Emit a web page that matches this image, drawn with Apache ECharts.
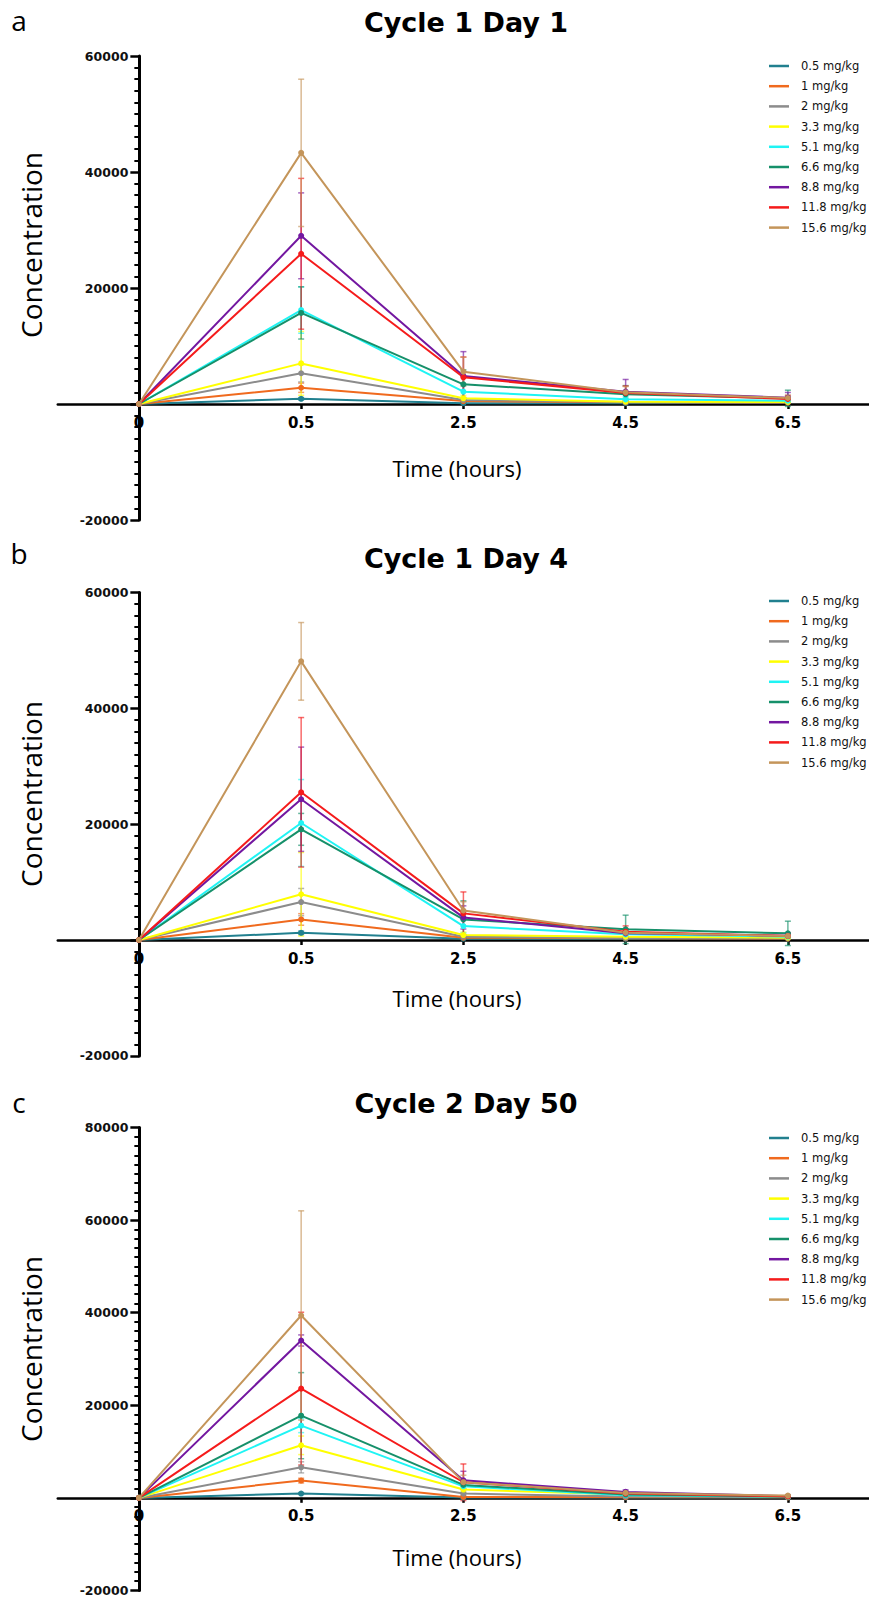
<!DOCTYPE html>
<html><head><meta charset="utf-8">
<script src="https://cdn.jsdelivr.net/npm/echarts@6/dist/echarts.min.js"></script>
<style>html,body{margin:0;padding:0;background:#fff}#chart{width:869px;height:1597px}</style>
</head><body><div id="chart"></div>
<script>
// ---- data ----
const timeLabels = ['0', '0.5', '2.5', '4.5', '6.5'];
const doseNames = ['0.5 mg/kg', '1 mg/kg', '2 mg/kg', '3.3 mg/kg', '5.1 mg/kg', '6.6 mg/kg', '8.8 mg/kg', '11.8 mg/kg', '15.6 mg/kg'];
const panelTitles = ['Cycle 1 Day 1', 'Cycle 1 Day 4', 'Cycle 2 Day 50'];
const panelLetters = ['a', 'b', 'c'];
const yMinValues = [-20000, -20000, -20000];
const yMaxValues = [60000, 60000, 80000];
const yTickStep = 20000;
const xAxisName = 'Time (hours)';
const yAxisName = 'Concentration';

// mean concentration per dose (rows) and time point (columns)
const c1d1Mean = [
  [0, 900, 150, 150, 250],
  [0, 2800, 500, 290, 250],
  [0, 5300, 690, 350, 300],
  [0, 7000, 980, 400, 350],
  [0, 16200, 2130, 800, 575],
  [0, 15700, 3390, 1670, 980],
  [0, 29000, 4830, 2130, 1090],
  [0, 25900, 4600, 1900, 860],
  [0, 43300, 5580, 2010, 1035]
];
const c1d1SD = [
  [0, 200, 50, 50, 50],
  [0, 800, 200, 100, 100],
  [0, 1500, 300, 150, 150],
  [0, 5500, 500, 200, 200],
  [0, 4000, 1200, 500, 300],
  [0, 4500, 2500, 1500, 1400],
  [0, 7400, 4200, 2100, 900],
  [0, 13000, 3500, 1200, 600],
  [0, 12700, 2500, 1000, 500]
];
const c1d4Mean = [
  [0, 1250, 230, 230, 345],
  [0, 3550, 400, 300, 250],
  [0, 6550, 575, 350, 300],
  [0, 7900, 860, 575, 400],
  [0, 20200, 2400, 980, 575],
  [0, 19100, 3560, 1840, 1150],
  [0, 24300, 3900, 1150, 750],
  [0, 25500, 4600, 1440, 690],
  [0, 48100, 5100, 1260, 700]
];
const c1d4SD = [
  [0, 300, 80, 80, 80],
  [0, 1000, 150, 100, 100],
  [0, 2350, 300, 150, 100],
  [0, 7200, 500, 300, 200],
  [0, 7500, 1200, 600, 400],
  [0, 2750, 3200, 2450, 2100],
  [0, 9000, 2000, 800, 500],
  [0, 12900, 3700, 1000, 500],
  [0, 6700, 1500, 600, 400]
];
const c2d50Mean = [
  [0, 935, 70, 100, 100],
  [0, 3740, 215, 150, 120],
  [0, 6600, 930, 300, 200],
  [0, 11360, 1800, 720, 300],
  [0, 15600, 2500, 575, 250],
  [0, 17760, 2800, 720, 300],
  [0, 34000, 3800, 1300, 360],
  [0, 23600, 3380, 935, 300],
  [0, 39400, 3400, 1080, 500]
];
const c2d50SD = [
  [0, 200, 30, 30, 30],
  [0, 500, 100, 50, 50],
  [0, 1200, 300, 100, 80],
  [0, 2000, 600, 200, 100],
  [0, 1500, 700, 200, 100],
  [0, 9300, 900, 200, 100],
  [0, 1200, 1950, 420, 100],
  [0, 16500, 3950, 300, 100],
  [0, 22600, 1500, 300, 200]
];

// ---- styles / layout ----
const colors = ['#21808f', '#f06a1e', '#8c8c8c', '#ffff00', '#1ff4f4', '#16906a', '#7317a0', '#f51b1b', '#c4955a'];
const gridLeft = 57.8, gridWidth = 815.5;
const xMin = -0.5, xMax = 4.5;
const layout = [
  { top: 56, height: 464, legendTop: 59, titleY: 22, letterY: 20, yNameY: 245, xNameY: 468 },
  { top: 592.4, height: 463.5, legendTop: 594, titleY: 558, letterY: 553, yNameY: 794, xNameY: 998 },
  { top: 1127.5, height: 463.5, legendTop: 1131, titleY: 1103, letterY: 1102, yNameY: 1349, xNameY: 1557 }
];
const panelMeans = [c1d1Mean, c1d4Mean, c2d50Mean];
const panelSDs = [c1d1SD, c1d4SD, c2d50SD];

const grids = [], xAxes = [], yAxes = [], series = [], legends = [], graphics = [];

function errRender(params, api) {
  const x = api.value(0);
  const lo = api.coord([x, api.value(1)]);
  const hi = api.coord([x, api.value(2)]);
  const cap = 3;
  const st = { stroke: api.visual('color'), fill: null, lineWidth: 1.5, opacity: 0.65 };
  return {
    type: 'group',
    children: [
      { type: 'line', shape: { x1: lo[0], y1: lo[1], x2: hi[0], y2: hi[1] }, style: st },
      { type: 'line', shape: { x1: hi[0] - cap, y1: hi[1], x2: hi[0] + cap, y2: hi[1] }, style: st },
      { type: 'line', shape: { x1: lo[0] - cap, y1: lo[1], x2: lo[0] + cap, y2: lo[1] }, style: st }
    ]
  };
}

layout.forEach((L, p) => {
  const yMin = yMinValues[p], yMax = yMaxValues[p];
  // place the axes on the zero lines of the other axis
  const xOffset = -L.height * (0 - yMin) / (yMax - yMin);
  const yOffset = -gridWidth * (0 - xMin) / (xMax - xMin);
  grids.push({ left: gridLeft, width: gridWidth, top: L.top, height: L.height, containLabel: false });
  xAxes.push({
    type: 'value', gridIndex: p, min: xMin, max: xMax, position: 'bottom', offset: xOffset,
    axisLine: { show: true, onZero: false, lineStyle: { color: '#000', width: 2.5 } },
    axisTick: { show: true, customValues: [0, 1, 2, 3, 4], length: 5, lineStyle: { color: '#000', width: 2.5 } },
    axisLabel: {
      customValues: [0, 1, 2, 3, 4],
      formatter: v => timeLabels[Math.round(v)],
      fontFamily: 'DejaVu Sans', fontWeight: 'bold', fontSize: 15, color: '#000', margin: 11
    },
    splitLine: { show: false }
  });
  yAxes.push({
    type: 'value', gridIndex: p, min: yMin, max: yMax, interval: yTickStep, position: 'left', offset: yOffset,
    axisLine: { show: true, onZero: false, lineStyle: { color: '#000', width: 3 } },
    axisTick: { show: true, length: 9, lineStyle: { color: '#000', width: 2.5 } },
    minorTick: { show: true, splitNumber: 10, length: 5, lineStyle: { color: '#000', width: 2 } },
    axisLabel: {
      formatter: v => (v === 0 ? '' : String(v)),
      fontFamily: 'DejaVu Sans', fontWeight: 'bold', fontSize: 12.5, color: '#111', margin: 11
    },
    splitLine: { show: false }
  });
  const M = panelMeans[p], S = panelSDs[p];
  doseNames.forEach((name, d) => {
    const errData = [];
    M[d].forEach((m, i) => { if (S[d][i] > 0) errData.push([i, m - S[d][i], m + S[d][i]]); });
    series.push({
      type: 'custom', name: 'err-' + p + '-' + d, xAxisIndex: p, yAxisIndex: p,
      data: errData, renderItem: errRender, color: colors[d], z: 2, silent: true,
      encode: { x: 0, y: [1, 2] }, animation: false
    });
  });
  doseNames.forEach((name, d) => {
    series.push({
      type: 'line', name: name, xAxisIndex: p, yAxisIndex: p,
      data: M[d].map((m, i) => [i, m]),
      symbol: 'circle', symbolSize: 6, color: colors[d],
      lineStyle: { width: 2, color: colors[d] }, itemStyle: { color: colors[d] },
      z: 3, animation: false
    });
  });
  legends.push({
    orient: 'vertical', left: 769, top: L.legendTop, padding: 0, data: doseNames,
    icon: 'rect', itemWidth: 20, itemHeight: 2.5, itemGap: 6.2, selectedMode: false,
    textStyle: { fontFamily: 'DejaVu Sans', fontSize: 11.5, color: '#111', lineHeight: 14, padding: [0, 0, 0, 7] }
  });
  graphics.push(
    { type: 'text', x: 19, y: L.letterY, style: { text: panelLetters[p], font: '28px "Open Sans"', fill: '#000', textAlign: 'center', textVerticalAlign: 'middle' } },
    { type: 'text', x: 466, y: L.titleY, style: { text: panelTitles[p], font: 'bold 27px "DejaVu Sans"', fill: '#000', textAlign: 'center', textVerticalAlign: 'middle' } },
    { type: 'text', x: 31, y: L.yNameY, rotation: Math.PI / 2, style: { text: yAxisName, font: '28px "Open Sans"', fill: '#000', textAlign: 'center', textVerticalAlign: 'middle' } },
    { type: 'text', x: 457, y: L.xNameY, style: { text: xAxisName, font: '22px "Open Sans"', fill: '#000', textAlign: 'center', textVerticalAlign: 'middle' } }
  );
});

const chart = echarts.init(document.getElementById('chart'), null, { renderer: 'svg', width: 869, height: 1597 });
chart.setOption({
  backgroundColor: '#fff',
  animation: false,
  grid: grids, xAxis: xAxes, yAxis: yAxes, legend: legends, series: series, graphic: graphics
});
</script></body></html>
